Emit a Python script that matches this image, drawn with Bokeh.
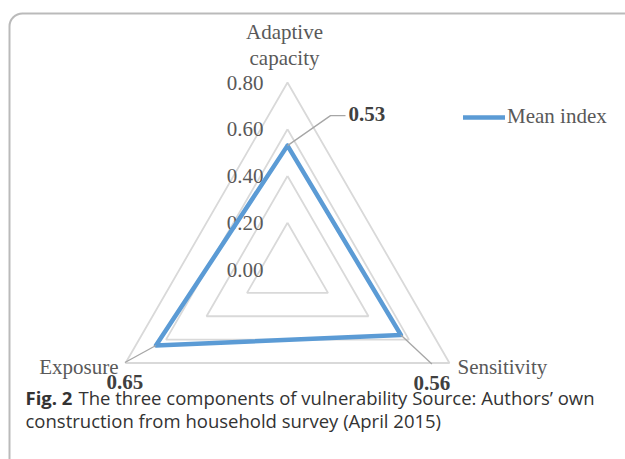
import numpy as np
from bokeh.plotting import figure
from bokeh.models import Range1d, BoxAnnotation, Legend, LegendItem
from bokeh.core.properties import value
from bokeh.embed import file_html
from bokeh.resources import INLINE

# ---- data ----
categories = ["Adaptive\ncapacity", "Sensitivity", "Exposure"]
mean_index = [0.53, 0.56, 0.65]
value_labels = ["0.53", "0.56", "0.65"]
grid_levels = [0.2, 0.4, 0.6, 0.8]
tick_values = [0.0, 0.2, 0.4, 0.6, 0.8]
tick_labels = ["0.00", "0.20", "0.40", "0.60", "0.80"]
series_name = "Mean index"
caption_bold = "Fig. 2"
caption_rest = "The three components of vulnerability Source: Authors\u2019 own"
caption_line2 = "construction from household survey (April 2015)"

# ---- layout ----
W, H = 625, 459
CX, CY = 287, 269          # radar centre in page pixels
S = 187 / 0.8              # pixels per index unit
SERIF = value("Liberation Serif")
SANS = value("Open Sans")
FS = "21px"

def dx(px):
    return px / S

def fx(px):
    return (px - CX) / S

def fy(py):
    return (CY - py) / S

angles = np.deg2rad([90, -30, 210])

p = figure(width=W, height=H, output_backend="svg", toolbar_location=None,
           x_range=Range1d(fx(0), fx(W)), y_range=Range1d(fy(H), fy(0)),
           min_border=0, outline_line_color=None)
p.axis.visible = False
p.grid.visible = False
p.background_fill_color = "white"
p.border_fill_color = "white"

# frame with rounded corner
p.add_layout(BoxAnnotation(left=fx(9), top=fy(13), right=fx(W + 40), bottom=fy(H + 40),
                           fill_alpha=0, line_color="#1a1a1a", line_width=2,
                           border_radius=13))

# grid triangles
for lv in grid_levels:
    gx = list(lv * np.cos(angles)) + [lv * np.cos(angles[0])]
    gy = list(lv * np.sin(angles)) + [lv * np.sin(angles[0])]
    p.line(gx, gy, line_color="#d9d9d9", line_width=1.8)

# tick labels along the vertical axis
p.text(x=[dx(-24)] * len(tick_values), y=tick_values, text=tick_labels,
       text_font=SERIF, text_font_size=FS,
       text_color="#595959", text_align="right", text_baseline="middle")

# data series
vx = [v * np.cos(a) for v, a in zip(mean_index, angles)]
vy = [v * np.sin(a) for v, a in zip(mean_index, angles)]
line = p.line(vx + [vx[0]], vy + [vy[0]], line_color="#5b9bd5", line_width=4.5,
              line_join="round", line_cap="round")

# category labels at outer ring
R = grid_levels[-1]
ox = [R * np.cos(a) for a in angles]
oy = [R * np.sin(a) for a in angles]
p.text(x=[ox[0] + dx(-3)], y=[oy[0] + dx(12)], text=[categories[0]],
       text_font=SERIF, text_font_size=FS,
       text_color="#595959", text_align="center", text_baseline="bottom",
       text_line_height=1.1)
p.text(x=[ox[1] + dx(8)], y=[oy[1] + dx(-4)], text=[categories[1]],
       text_font=SERIF, text_font_size=FS,
       text_color="#595959", text_align="left", text_baseline="middle")
p.text(x=[ox[2] + dx(-7)], y=[oy[2] + dx(-4)], text=[categories[2]],
       text_font=SERIF, text_font_size=FS,
       text_color="#595959", text_align="right", text_baseline="middle")

# data labels with leader lines
a_elbow = (vx[0] + dx(43), vy[0] + dx(30))
a_end = (vx[0] + dx(58), vy[0] + dx(30))
p.line([vx[0], a_elbow[0], a_end[0]], [vy[0], a_elbow[1], a_end[1]],
       line_color="#a6a6a6", line_width=1.3)
p.text(x=[a_end[0] + dx(3)], y=[a_end[1] + dx(2)], text=[value_labels[0]],
       text_font=SERIF, text_font_size=FS, text_font_style="bold",
       text_color="#404040", text_align="left", text_baseline="middle")
s_end = (vx[1] + dx(31), vy[1] - dx(29))
p.line([vx[1], s_end[0]], [vy[1], s_end[1]], line_color="#a6a6a6", line_width=1.3)
p.text(x=[s_end[0]], y=[s_end[1] - dx(19)], text=[value_labels[1]],
       text_font=SERIF, text_font_size=FS, text_font_style="bold",
       text_color="#404040", text_align="center", text_baseline="middle")
e_end = (vx[2] - dx(31), vy[2] - dx(17))
p.line([vx[2], e_end[0]], [vy[2], e_end[1]], line_color="#a6a6a6", line_width=1.3)
p.text(x=[e_end[0]], y=[e_end[1] - dx(20)], text=[value_labels[2]],
       text_font=SERIF, text_font_size=FS, text_font_style="bold",
       text_color="#404040", text_align="center", text_baseline="middle")

# legend
legend = Legend(items=[LegendItem(label=series_name, renderers=[line])],
                location=(463, 330), orientation="vertical",
                label_text_font="Liberation Serif", label_text_font_size=FS,
                label_text_color="#595959", glyph_width=42, glyph_height=24,
                label_standoff=2, padding=0, margin=0, spacing=0,
                border_line_alpha=0, background_fill_alpha=0)
p.add_layout(legend)

# caption
CFS = "18.5px"
p.text(x=[fx(25)], y=[fy(397)], text=[caption_bold],
       text_font=SANS, text_font_size=CFS, text_font_style="bold",
       text_color="#333333", text_align="left", text_baseline="middle")
p.text(x=[fx(78)], y=[fy(397)], text=[caption_rest],
       text_font=SANS, text_font_size=CFS,
       text_color="#333333", text_align="left", text_baseline="middle")
p.text(x=[fx(25)], y=[fy(420)], text=[caption_line2],
       text_font=SANS, text_font_size=CFS,
       text_color="#333333", text_align="left", text_baseline="middle")

open("out.html", "w").write(file_html(p, INLINE))
